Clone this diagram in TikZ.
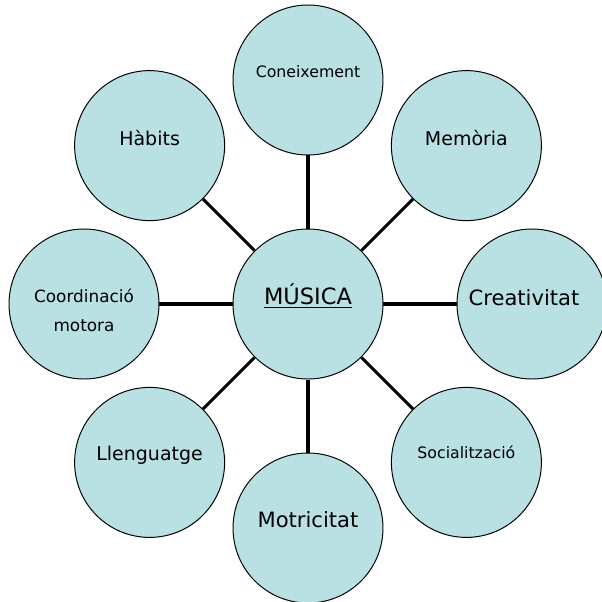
\documentclass[tikz,border=0pt]{standalone}
\usepackage{fontspec}
\setmainfont{DejaVu Sans}
\definecolor{bubblefill}{RGB}{185,224,227}
\begin{document}
\begin{tikzpicture}[
    bubble/.style={circle,draw=black,line width=0.7pt,fill=bubblefill,minimum size=3.75cm,inner sep=0pt},
    bigtext/.style={font=\fontsize{13.5}{16}\selectfont},
    hugetext/.style={font=\fontsize{15}{18}\selectfont},
    midtext/.style={font=\fontsize{12}{21}\selectfont,align=center},
    smalltext/.style={font=\fontsize{11.2}{13}\selectfont},
    link/.style={line width=2.2pt}
  ]
    \useasboundingbox (-7.7,-7.425) rectangle (7.35,7.6);
    % centre
    \node [bubble] (musica) at (0,0) {};
    % ring of circles
    \node [bubble] (coneixement) at (90:5.6) {};
    \node [bubble] (memoria) at (45:5.6) {};
    \node [bubble] (creativitat) at (0:5.6) {};
    \node [bubble] (socialitzacio) at (-45:5.6) {};
    \node [bubble] (motricitat) at (-90:5.6) {};
    \node [bubble] (llenguatge) at (-135:5.6) {};
    \node [bubble] (coordinacio) at (180:5.6) {};
    \node [bubble] (habits) at (135:5.6) {};
    % connectors
    \draw [link] (musica) -- (coneixement);
    \draw [link] (musica) -- (memoria);
    \draw [link] (musica) -- (creativitat);
    \draw [link] (musica) -- (socialitzacio);
    \draw [link] (musica) -- (motricitat);
    \draw [link] (musica) -- (llenguatge);
    \draw [link] (musica) -- (coordinacio);
    \draw [link] (musica) -- (habits);
    % texts
    \node [font=\fontsize{16}{19}\selectfont,yshift=0.2cm] (musicaT) at (musica) {\underline{MÚSICA}};
    \node [smalltext,yshift=0.22cm] (coneixementT) at (coneixement) {Coneixement};
    \node [bigtext,yshift=0.2cm] (memoriaT) at (memoria) {Memòria};
    \node [hugetext,xshift=-0.2cm,yshift=0.15cm] (creativitatT) at (creativitat) {Creativitat};
    \node [smalltext,yshift=0.25cm] (socialitzacioT) at (socialitzacio) {Socialització};
    \node [hugetext,yshift=0.2cm] (motricitatT) at (motricitat) {Motricitat};
    \node [bigtext,yshift=0.18cm] (llenguatgeT) at (llenguatge) {Llenguatge};
    \node [midtext,yshift=-0.16cm] (coordinacioT) at (coordinacio) {Coordinació\\motora};
    \node [bigtext,yshift=0.2cm] (habitsT) at (habits) {Hàbits};
\end{tikzpicture}
\end{document}
